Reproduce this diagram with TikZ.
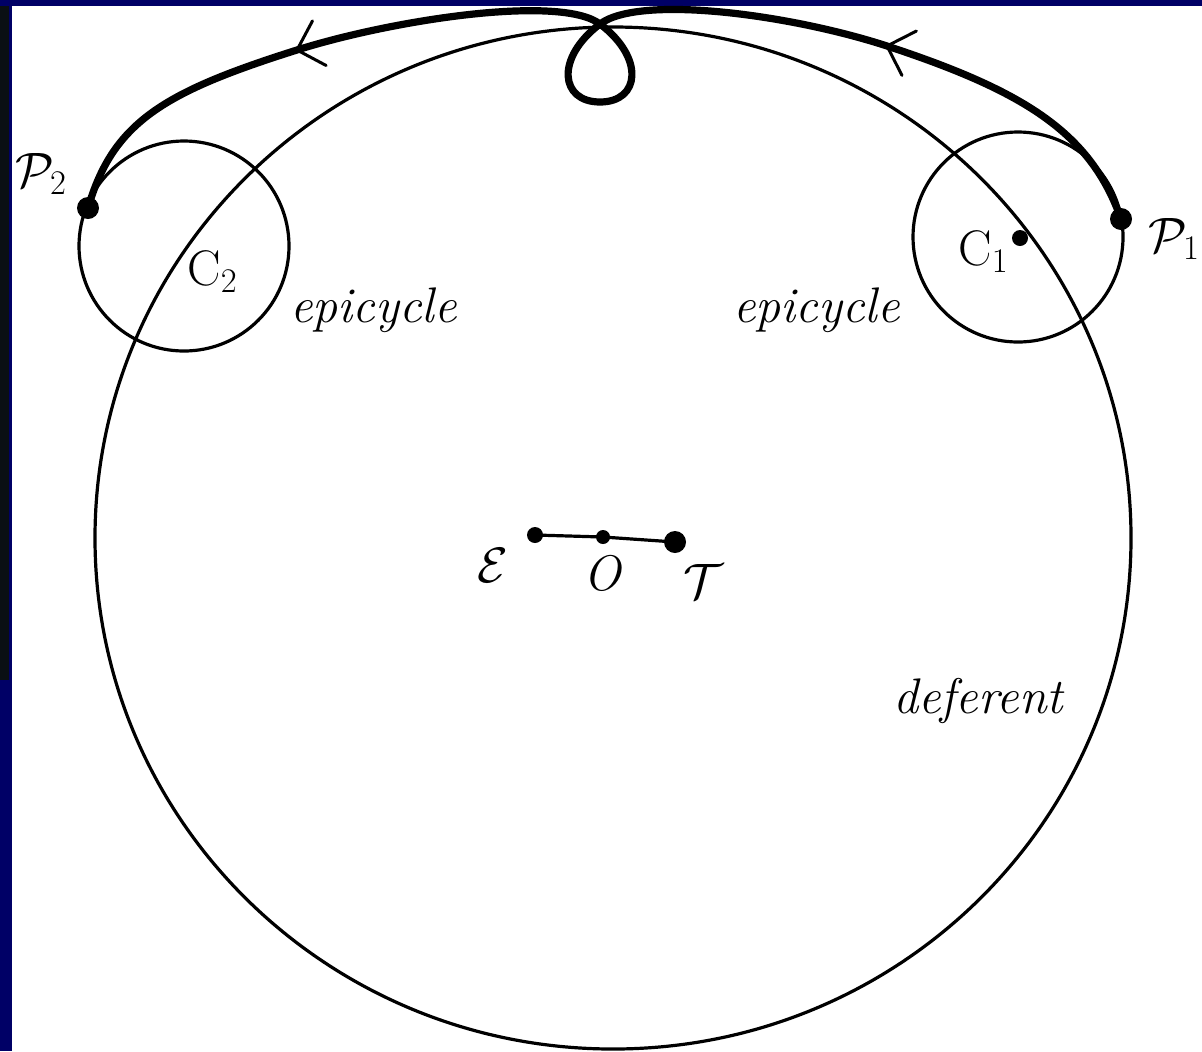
\documentclass[tikz,border=0pt]{standalone}
\definecolor{navy}{RGB}{0,0,102}
\definecolor{stripc}{RGB}{10,15,20}
\tikzset{
  thinline/.style={line width=1.6pt},
  thickline/.style={line width=3.6pt, line join=round, line cap=round},
  barb/.style={line width=1.5pt, line cap=round},
  lbl/.style={inner sep=0pt, anchor=base west, font=\fontsize{25}{30}\selectfont},
}
\begin{document}
\begin{tikzpicture}[x=0.5pt,y=-0.5pt]
\clip (0,0) rectangle (1202,1051);
\fill[navy] (0,0) rectangle (1202,1051);
\fill[stripc] (0,6) rectangle (9,680);
\fill[white] (12,6) rectangle (1202,1051);

% named points
\coordinate (Ocen) at (613,538);
\coordinate (C1) at (1018,237);
\coordinate (C1d) at (1020,238);
\coordinate (C2) at (184,246);
\coordinate (P1) at (1121,219);
\coordinate (P2) at (88,208);
\coordinate (E) at (535,535);
\coordinate (O) at (603,537);
\coordinate (T) at (675,542);
\coordinate (A1) at (887,46);
\coordinate (A2) at (297,50);
\coordinate (X) at (600,24);
\coordinate (B) at (600,102);

% deferent and epicycles
\draw[thinline] (Ocen) ellipse [x radius=259pt, y radius=255.5pt];
\draw[thinline] (C1) circle [radius=52.5pt];
\draw[thinline] (C2) circle [radius=52.5pt];

% path of the planet
\draw[thickline] (P1) .. controls (1091,134) and (1027,92) .. (A1)
  .. controls (792,15) and (640,-6) .. (X)
  .. controls (555,58) and (560,102) .. (B)
  .. controls (640,102) and (645,58) .. (X)
  .. controls (560,-6) and (392,20) .. (A2)
  .. controls (164,92) and (113,122) .. (P2);

% arrow barbs
\draw[barb] (A1) -- ++(27:16.5pt);
\draw[barb] (A1) -- ++(-63:16.5pt);
\draw[barb] (A2) -- ++(62:16.5pt);
\draw[barb] (A2) -- ++(-28:16.5pt);

% E - O - T
\draw[thinline] (E) -- (O) -- (T);
\fill (E) circle [radius=4pt];
\fill (O) circle [radius=3.5pt];
\fill (T) circle [radius=5.5pt];

% dots
\fill (P1) circle [radius=5.5pt];
\fill (P2) circle [radius=5.5pt];
\fill (C1d) circle [radius=4pt];

% labels
\node[lbl] (lP2) at (15,187) {$\mathcal{P}_2$};
\node[lbl] (lP1) at (1148,252) {$\mathcal{P}_1$};
\node[lbl] (lC2) at (187,285) {C$_2$};
\node[lbl] (lC1) at (958,265) {C$_1$};
\node[lbl] (ep2) at (290,322) {\itshape epicycle};
\node[lbl] (ep1) at (733,322) {\itshape epicycle};
\node[lbl] (def) at (893,713) {\itshape deferent};
\node[lbl] (lE) at (477,582) {$\mathcal{E}$};
\node[lbl] (lO) at (583,590) {\itshape O};
\node[lbl] (lT) at (683,598) {$\mathcal{T}$};
\end{tikzpicture}
\end{document}
